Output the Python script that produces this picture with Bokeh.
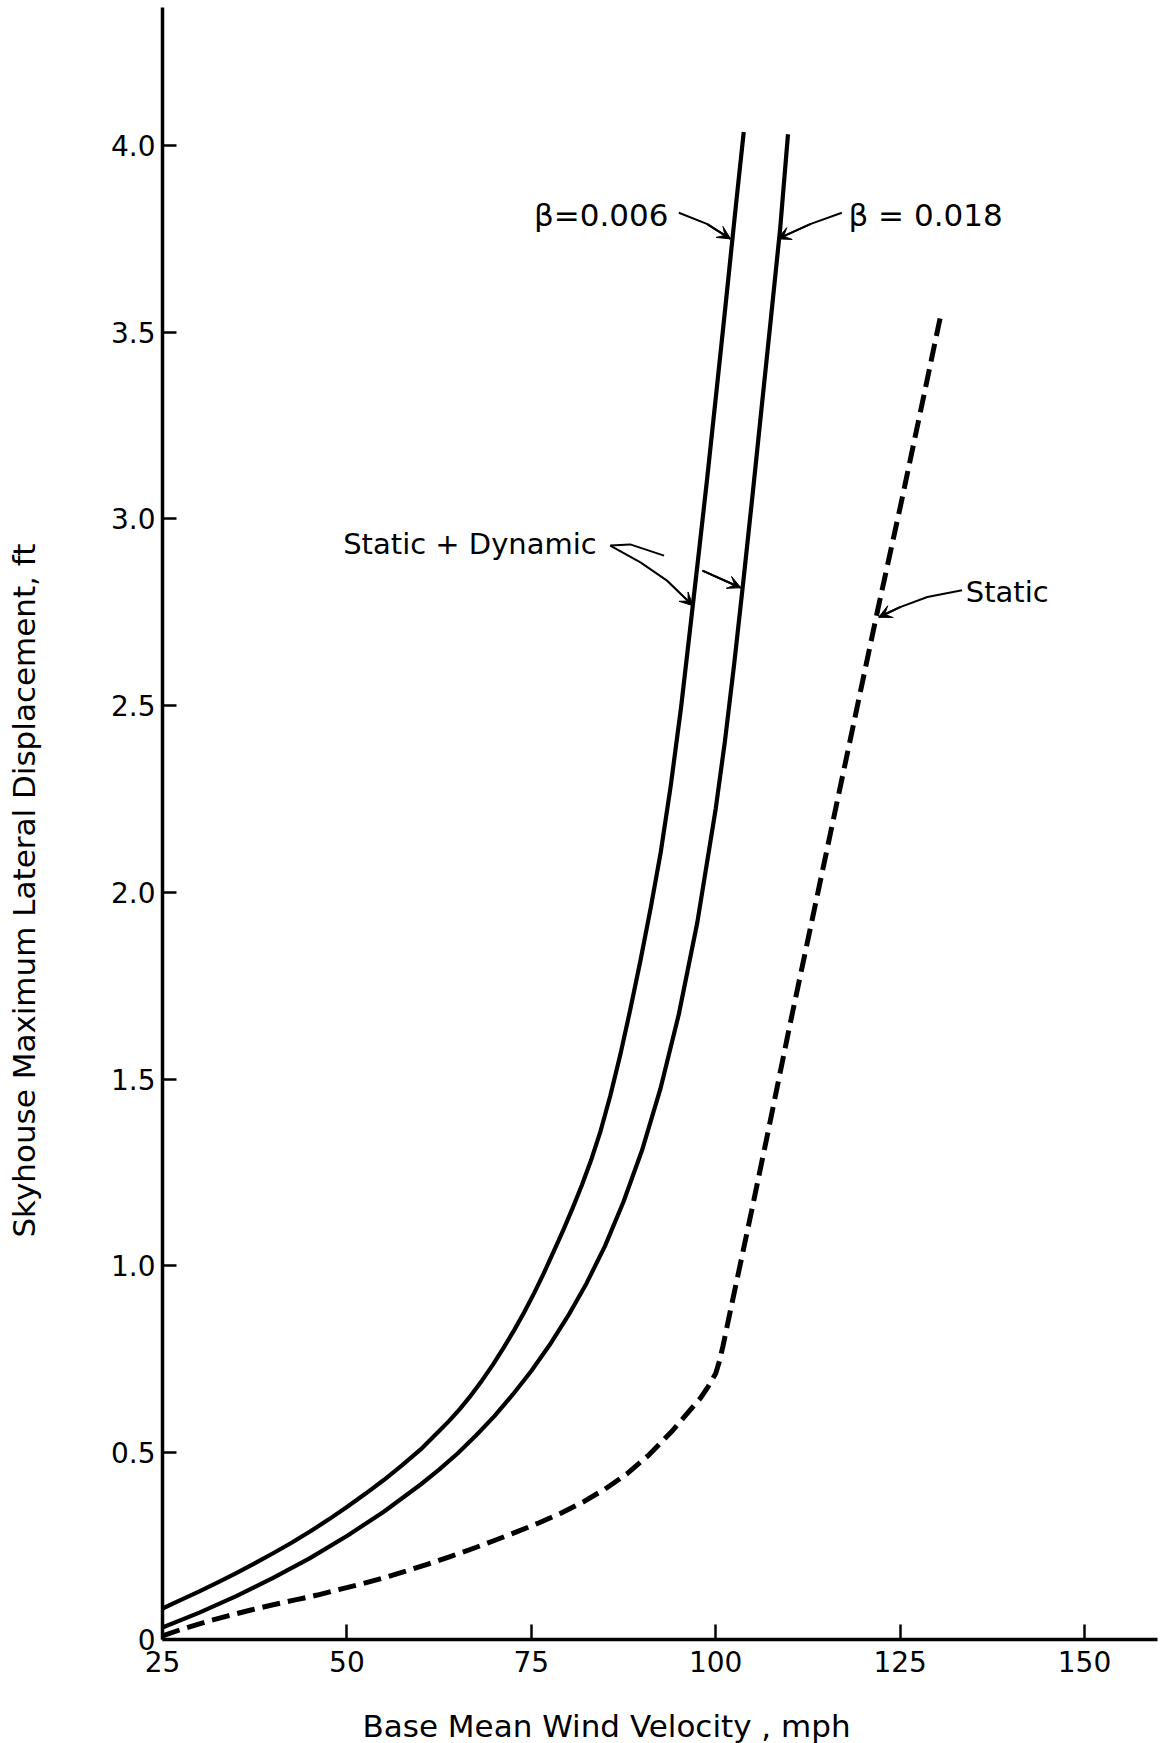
import math
from bokeh.plotting import figure
from bokeh.models import Range1d, FixedTicker, Label, Arrow, VeeHead
from bokeh.embed import file_html
from bokeh.resources import INLINE

# ---------------- data ----------------
vel_b006 = [25, 27.5, 30, 32.5, 35, 37.5, 40, 42.5, 45, 47.5, 50, 52.5, 55, 57.5, 60, 62.3,
            63.8, 65.3, 66.8, 68.3, 69.8, 71.3, 72.7, 74.0, 75.4, 76.7, 78.1, 79.35, 80.6,
            81.85, 83.1, 84.4, 85.7, 87.05, 88.4, 89.8, 91.2, 92.55, 93.9, 95.3, 96.7, 97.8,
            98.85, 100.2, 101.1, 102.0, 102.8, 103.8]
disp_b006 = [0.083, 0.106, 0.129, 0.153, 0.178, 0.204, 0.231, 0.259, 0.289, 0.321, 0.355,
             0.390, 0.427, 0.467, 0.509, 0.554, 0.584, 0.617, 0.653, 0.693, 0.736, 0.783,
             0.829, 0.875, 0.928, 0.981, 1.042, 1.097, 1.155, 1.216, 1.283, 1.362, 1.455,
             1.564, 1.685, 1.818, 1.96, 2.108, 2.285, 2.495, 2.735, 2.925, 3.11, 3.36, 3.528,
             3.699, 3.851, 4.036]

vel_b018 = [25, 30, 35, 40, 45, 50, 55, 60, 62.5, 65, 67.5, 70, 72.5, 75, 77.5, 80, 82.5,
            85, 87.5, 90, 92.5, 95, 97.5, 100, 101.25, 102.5, 103.75, 105, 106.25, 107.5,
            108.75, 109.8]
disp_b018 = [0.032, 0.072, 0.116, 0.165, 0.218, 0.277, 0.342, 0.415, 0.455, 0.498, 0.546,
             0.598, 0.656, 0.719, 0.789, 0.867, 0.954, 1.054, 1.172, 1.309, 1.474, 1.674,
             1.919, 2.224, 2.405, 2.611, 2.834, 3.065, 3.303, 3.54, 3.78, 4.03]

vel_static = [25, 28, 31, 34, 37, 40, 43, 46, 49, 52, 55, 58, 61, 64, 67, 70, 73, 76, 79,
              82, 85, 88, 91, 94, 96, 98, 99, 100, 100.5, 101, 102.2, 103.5, 105, 107, 110,
              113, 116, 119, 122, 125, 128, 130.5]
disp_static = [0.010, 0.030, 0.048, 0.064, 0.079, 0.093, 0.106, 0.119, 0.134, 0.149, 0.165,
               0.183, 0.202, 0.222, 0.243, 0.265, 0.288, 0.312, 0.338, 0.368, 0.403, 0.444,
               0.495, 0.556, 0.602, 0.648, 0.678, 0.712, 0.745, 0.787, 0.90, 1.02, 1.16,
               1.35, 1.64, 1.92, 2.20, 2.48, 2.76, 3.03, 3.31, 3.545]

x_ticks = [25, 50, 75, 100, 125, 150]
x_tick_labels = ["25", "50", "75", "100", "125", "150"]
y_ticks = [0, 0.5, 1.0, 1.5, 2.0, 2.5, 3.0, 3.5, 4.0]
y_tick_labels = ["0", "0.5", "1.0", "1.5", "2.0", "2.5", "3.0", "3.5", "4.0"]

x_title = "Base Mean Wind Velocity , mph"
y_title = "Skyhouse Maximum Lateral Displacement, ft"

# axis extents
x_axis_bounds = (25, 159.9)
y_axis_bounds = (0, 4.37)

# annotation leaders (data coordinates)
lead_006_x = [95.0, 98.8, 102.0]
lead_006_y = [3.82, 3.79, 3.75]
lead_018_x = [117.1, 112.9, 108.4]
lead_018_y = [3.82, 3.79, 3.75]
lead_sd1_x = [85.7, 89.8, 93.4, 96.9]
lead_sd1_y = [2.929, 2.884, 2.835, 2.768]
lead_sd2_x = [85.7, 88.4, 93.0]
lead_sd2_y = [2.929, 2.932, 2.902]
lead_sd3_x = [98.2, 103.4]
lead_sd3_y = [2.862, 2.816]
lead_st_x = [133.4, 128.7, 125.0, 122.1]
lead_st_y = [2.809, 2.791, 2.764, 2.737]

FONT = "DejaVu Sans"

# the frame fills the whole canvas; the axes are pinned at x=25 and y=0
p = figure(width=1165, height=1743,
           x_range=Range1d(3.0369, 160.98), y_range=Range1d(-0.27845, 4.3882),
           output_backend="svg", toolbar_location=None,
           min_border_left=0, min_border_right=0,
           min_border_top=0, min_border_bottom=0)
p.outline_line_color = None
p.xgrid.visible = False
p.ygrid.visible = False
p.background_fill_color = "white"
p.border_fill_color = "white"

for ax in (p.xaxis[0], p.yaxis[0]):
    ax.axis_line_color = "black"
    ax.axis_line_width = 3.5
    ax.major_tick_line_color = "black"
    ax.major_tick_line_width = 2.5
    ax.major_tick_out = 0
    ax.minor_tick_line_color = None
    ax.major_label_text_font = FONT
    ax.major_label_text_font_size = "28px"
    ax.major_label_text_color = "black"

xa = p.xaxis[0]
xa.fixed_location = 0
xa.bounds = x_axis_bounds
xa.ticker = FixedTicker(ticks=x_ticks)
xa.major_label_overrides = {t: l for t, l in zip(x_ticks, x_tick_labels)}
xa.major_tick_in = 15
xa.major_label_standoff = 12

ya = p.yaxis[0]
ya.fixed_location = 25
ya.bounds = y_axis_bounds
ya.ticker = FixedTicker(ticks=y_ticks)
ya.major_label_overrides = {t: l for t, l in zip(y_ticks, y_tick_labels)}
ya.major_tick_in = 14
ya.major_label_standoff = 7

# curves
p.line(vel_b006, disp_b006, line_color="black", line_width=4.2, line_join="round")
p.line(vel_b018, disp_b018, line_color="black", line_width=4.2, line_join="round")
p.line(vel_static, disp_static, line_color="black", line_width=5, line_dash="18 8",
       line_join="round")

# leaders
def leader(xs, ys, arrow=True):
    p.line(xs, ys, line_color="black", line_width=2)
    if arrow:
        p.add_layout(Arrow(end=VeeHead(size=13, fill_color="black", line_color="black"),
                           x_start=xs[-2], y_start=ys[-2], x_end=xs[-1], y_end=ys[-1],
                           line_color="black", line_width=2))

leader(lead_006_x, lead_006_y)
leader(lead_018_x, lead_018_y)
leader(lead_sd1_x, lead_sd1_y)
leader(lead_sd2_x, lead_sd2_y, arrow=False)
leader(lead_sd3_x, lead_sd3_y)
leader(lead_st_x, lead_st_y)

# texts
def lab(x, y, t, size, align="left", angle=0.0):
    p.add_layout(Label(x=x, y=y, text=t, text_font=FONT, text_font_size=size,
                       text_align=align, text_baseline="middle", text_color="black",
                       angle=angle))

lab(93.6, 3.813, "β=0.006", "31px", align="right")
lab(118.0, 3.813, "β = 0.018", "31px")
lab(49.5, 2.933, "Static + Dynamic", "29px")
lab(133.9, 2.804, "Static", "29px")

# axis titles
lab(85.2, -0.2303, x_title, "31px", align="center")
lab(6.29, 2.005, y_title, "31px", align="center", angle=math.pi / 2)

open("out.html", "w").write(file_html(p, INLINE))
